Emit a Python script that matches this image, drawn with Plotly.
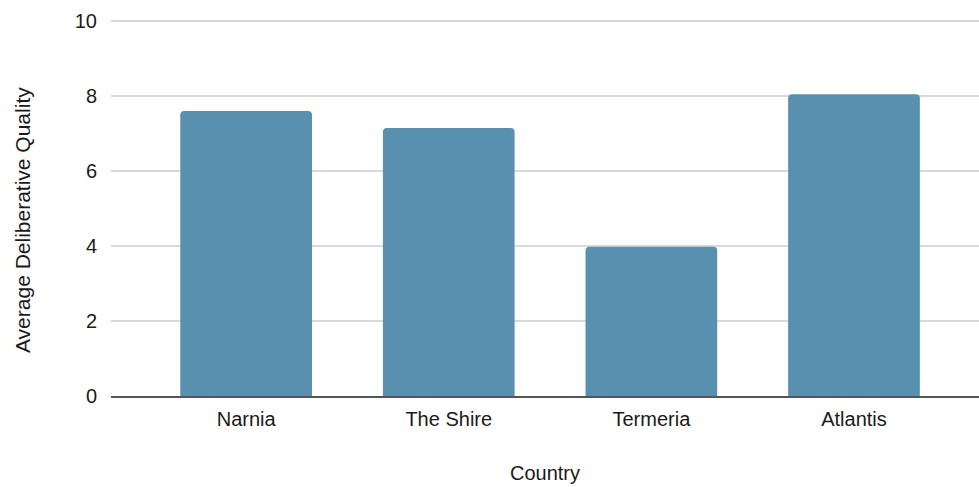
import plotly.graph_objects as go

countries = ["Narnia", "The Shire", "Termeria", "Atlantis"]
quality = [7.6, 7.15, 3.98, 8.05]

fig = go.Figure(go.Bar(
    x=countries, y=quality,
    marker=dict(color="#5a90af", cornerradius=4, line=dict(width=0)),
    width=0.65,
))

font = "Liberation Sans, Arial, sans-serif"
fig.update_layout(
    width=979, height=487,
    margin=dict(l=111, r=0, t=20, b=91),
    plot_bgcolor="white", paper_bgcolor="white",
    font=dict(family=font, size=20, color="#1a1a1a"),
    showlegend=False,
)
fig.update_xaxes(
    range=[-0.667, 3.617],
    showgrid=False,
    showline=True, linecolor="#555555", linewidth=1.5,
    ticks="outside", ticklen=4, tickcolor="rgba(0,0,0,0)",
    title=dict(text="Country", font=dict(size=20), standoff=37),
)
fig.update_yaxes(
    range=[0, 10.03], dtick=2,
    showgrid=True, gridcolor="#d9d9d9", gridwidth=1.5,
    zeroline=False,
    ticks="outside", ticklen=9, tickcolor="rgba(0,0,0,0)",
)
fig.add_annotation(
    text="Average Deliberative Quality", textangle=-90,
    xref="paper", yref="paper", x=0, y=0.468,
    xshift=-89, showarrow=False, xanchor="center", yanchor="middle",
    font=dict(size=21, family=font, color="#1a1a1a"),
)
fig.write_html("out.html")
